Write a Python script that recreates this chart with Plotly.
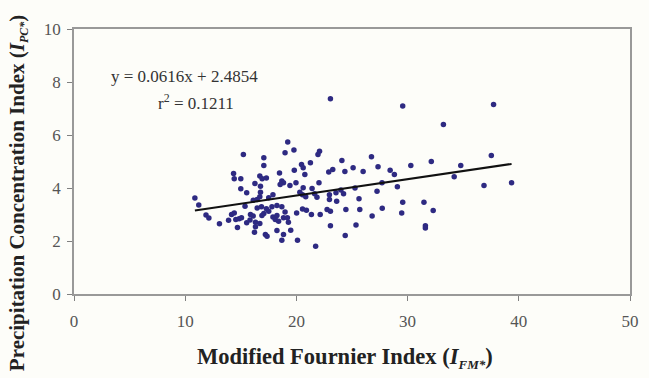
import plotly.graph_objects as go

# Modified Fournier Index (x) and Precipitation Concentration Index (y)
ifm = [10.87, 11.22, 11.87, 12.13, 13.08, 13.9, 14.17, 14.41, 14.55, 14.85, 15.06, 14.7,
       15.23, 14.35, 14.41, 15.0, 15.0, 15.53, 15.53, 15.83, 15.87, 16.12, 15.38, 16.12,
       16.27, 16.32, 16.71, 16.32, 16.23, 16.71, 16.92, 17.3, 17.07, 17.07, 16.77, 16.77,
       16.71, 16.47, 16.86, 17.3, 17.07, 16.47, 16.9, 17.21, 17.36, 17.89, 17.51, 17.8,
       18.25, 18.69, 18.98, 17.51, 17.89, 18.1, 18.25, 18.4, 18.84, 19.28, 19.19,
       18.25, 18.84, 18.69, 19.49, 20.1, 21.73,
       19.22, 18.98, 19.78, 22.08, 21.94, 20.46, 20.61, 21.26, 19.81, 18.48, 18.69, 18.84,
       18.54, 19.42, 19.96, 20.61, 21.41, 22.03, 20.76, 20.55, 20.84, 20.31, 21.64, 21.85,
       20.02, 20.55, 20.9, 21.35, 22.14,
       23.06, 24.09, 23.27, 22.91, 24.36, 23.56, 24.0, 22.97, 24.24, 22.97, 23.62,
       22.76, 23.06, 24.45, 23.06, 24.39,
       25.1, 25.27, 25.63, 25.7, 25.36, 26.0, 26.75, 27.34, 27.25, 26.81, 27.72, 27.7,
       28.43, 28.81, 29.08, 29.56, 29.56, 29.47, 30.29, 31.47, 31.6, 31.6, 32.3, 32.13,
       33.22, 34.19, 34.78, 36.87, 37.53, 37.73, 39.35]
ipc = [3.62, 3.36, 2.98, 2.87, 2.65, 2.78, 3.0, 3.06, 2.81, 2.84, 2.88, 2.51,
       5.26, 4.55, 4.35, 4.35, 3.97, 3.82, 2.69, 2.79, 3.0, 2.94, 3.31, 3.54,
       4.17, 2.71, 2.66, 2.54, 2.33, 4.45, 4.35, 4.38, 5.14, 4.85, 4.07, 3.84,
       3.67, 3.25, 3.29, 3.22, 3.04, 3.57, 2.96, 2.25, 2.18, 3.75, 3.63, 3.29,
       3.34, 3.29, 3.09, 3.12, 2.91, 2.81, 2.96, 2.75, 2.88, 2.71, 2.88,
       2.40, 2.25, 2.03, 2.41, 2.03, 1.8,
       5.74, 5.33, 5.43, 5.39, 5.26, 4.89, 4.76, 4.95, 4.67, 4.57, 4.26, 4.2,
       4.13, 4.09, 4.2, 4.01, 3.98, 4.2, 4.51, 3.75, 3.67, 3.84, 3.78, 3.65,
       3.06, 3.21, 3.16, 3.0, 3.0,
       7.37, 5.04, 4.7, 4.6, 4.62, 3.82, 3.92, 3.75, 3.78, 3.57, 3.5,
       3.19, 3.12, 3.19, 2.58, 2.21,
       4.76, 4.0, 3.59, 3.19, 2.6, 4.62, 5.18, 4.8, 3.88, 2.94, 3.24, 4.2,
       4.67, 4.51, 4.05, 7.09, 3.46, 3.06, 4.85, 3.46, 2.58, 2.49, 3.15, 5.0,
       6.4, 4.42, 4.85, 4.09, 5.23, 7.15, 4.2]

slope = 0.0616
intercept = 2.4854
r2 = 0.1211

x_ticks = [0, 10, 20, 30, 40, 50]
y_ticks = [0, 2, 4, 6, 8, 10]

fit_x = [min(ifm), max(ifm)]
fit_y = [slope * v + intercept for v in fit_x]

serif = "Liberation Serif, Times New Roman, serif"

fig = go.Figure()
fig.add_trace(go.Scatter(x=ifm, y=ipc, mode="markers",
                         marker=dict(size=5.5, color="#2E2A82", line=dict(width=0)),
                         showlegend=False))
fig.add_trace(go.Scatter(x=fit_x, y=fit_y, mode="lines",
                         line=dict(color="#111111", width=2), showlegend=False))

fig.add_annotation(x=9.92, y=8.21, xref="x", yref="y", showarrow=False,
                   text=f"y = {slope}x + {intercept}",
                   font=dict(family=serif, size=17, color="#333333"))
fig.add_annotation(x=10.98, y=7.26, xref="x", yref="y", showarrow=False,
                   text=f"r<sup>2</sup> = {r2}",
                   font=dict(family=serif, size=17, color="#333333"))

fig.add_annotation(x=0.488, y=-0.24, xref="paper", yref="paper", showarrow=False,
                   yanchor="middle",
                   text="<b>Modified Fournier Index (<i>I</i><sub><i><span style='font-size:13px'>FM*</span></i></sub>)</b>",
                   font=dict(family=serif, size=22.5, color="#222222"))
fig.add_annotation(x=-0.128, y=0.38, xref="paper", yref="paper", showarrow=False,
                   textangle=-90,
                   text="<b>Precipitation Concentration Index (<i>I</i><sub><i><span style='font-size:12px'>PC*</span></i></sub>)</b>",
                   font=dict(family=serif, size=21, color="#222222"))

axis_common = dict(showgrid=False, zeroline=False, ticks="outside", ticklen=5,
                   tickcolor="#808080", linecolor="#999999", linewidth=1.5,
                   mirror=True, showline=True,
                   tickfont=dict(family=serif, size=17, color="#555555"))

fig.update_xaxes(range=[0, 50], tickvals=x_ticks, ticklabelstandoff=6, **axis_common)
fig.update_yaxes(range=[0, 10], tickvals=y_ticks, ticklabelstandoff=3, **axis_common)

fig.update_layout(width=649, height=378,
                  margin=dict(l=74, r=10, t=29, b=84),
                  paper_bgcolor="#FDFDF9", plot_bgcolor="#FDFDF9")

fig.write_html("out.html")
